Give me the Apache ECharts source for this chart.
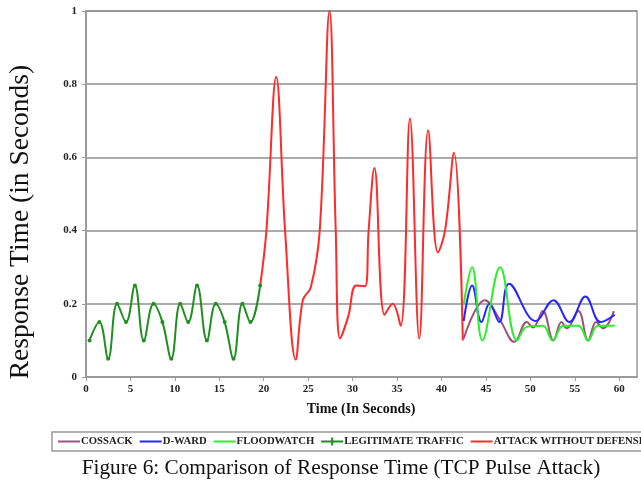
<!DOCTYPE html>
<html><head><meta charset="utf-8">
<script src="https://cdn.jsdelivr.net/npm/echarts@6/dist/echarts.min.js"></script>
<style>html,body{margin:0;padding:0;background:#fff}#c{width:641px;height:483px}</style>
</head><body><div id="c"></div>
<script>
const xTicks = [0,5,10,15,20,25,30,35,40,45,50,55,60];
const legitX = [0.4,1.5,2.5,3.5,4.5,5.5,6.5,7.6,8.6,9.6,10.6,11.5,12.5,13.6,14.6,15.6,16.6,17.6,18.5,19.6];
const legitY = [0.10,0.15,0.05,0.20,0.15,0.25,0.10,0.20,0.15,0.05,0.20,0.15,0.25,0.10,0.20,0.15,0.05,0.20,0.15,0.25];
const attackX = [19.6,20.3,21.4,22.4,23.6,24.4,25.3,26.3,27.4,28.1,28.6,29.5,30.4,31.4,31.8,32.45,33.6,34.5,35.4,36.45,37.5,38.5,39.6,40.4,41.4,42.4];
const attackY = [0.25,0.40,0.82,0.40,0.048,0.21,0.245,0.40,1.0,0.40,0.105,0.165,0.25,0.248,0.40,0.571,0.17,0.20,0.14,0.706,0.105,0.674,0.34,0.40,0.613,0.10];
const cossackX = [42.5,44.9,46.6,48.2,49.6,50.3,51.4,52.6,53.5,54.1,55.4,56.5,57.4,58.2,59.4];
const cossackY = [0.105,0.21,0.155,0.096,0.15,0.135,0.18,0.10,0.15,0.133,0.18,0.10,0.15,0.133,0.18];
const dwardX = [42.5,43.45,44.5,45.4,46.5,47.6,50.6,52.6,54.4,56.2,57.9,59.5];
const dwardY = [0.153,0.25,0.15,0.20,0.15,0.255,0.153,0.21,0.15,0.22,0.15,0.17];
const floodX = [42.5,43.45,44.6,46.6,48.5,49.6,51.4,52.5,53.7,55.4,56.5,57.6,59.5];
const floodY = [0.20,0.30,0.10,0.30,0.10,0.137,0.14,0.10,0.14,0.14,0.10,0.14,0.14];
const names = ['COSSACK','D-WARD','FLOODWATCH','LEGITIMATE TRAFFIC','ATTACK WITHOUT DEFENSE'];
const captionText = 'Figure 6: Comparison of Response Time (TCP Pulse Attack)';
const yTitle = 'Response Time (in Seconds)';
const xTitle = 'Time (In Seconds)';

const pairs = (xs, ys) => xs.map((x, i) => [x, ys[i]]);
const serif = '"Liberation Serif","DejaVu Serif",serif';
const lineIcon = 'path://M0,3.5h22v2h-22z';
const crossIcon = 'path://M0,3.5h10v-3h2v3h10v2h-10v3h-2v-3h-10z';

const chart = echarts.init(document.getElementById('c'));
chart.setOption({
  animation: false,
  backgroundColor: '#fff',
  grid: { left: 86, right: 4, top: 11, bottom: 106, show: true, borderColor: '#9a9a9a', borderWidth: 1.5 },
  xAxis: {
    type: 'value', min: 0, max: 62, interval: 5,
    axisLine: { show: true, lineStyle: { color: '#9a9a9a', width: 2 } },
    axisTick: { show: true, length: 4, customValues: xTicks, lineStyle: { color: '#9a9a9a' } },
    axisLabel: { customValues: xTicks, margin: 7, color: '#222', fontFamily: serif, fontWeight: 'bold', fontSize: 11 },
    splitLine: { show: false }
  },
  yAxis: {
    type: 'value', min: 0, max: 1, interval: 0.2,
    axisLine: { show: true, lineStyle: { color: '#9a9a9a', width: 2 } },
    axisTick: { show: true, length: 4, lineStyle: { color: '#9a9a9a' } },
    axisLabel: { margin: 9, color: '#222', fontFamily: serif, fontWeight: 'bold', fontSize: 11 },
    splitLine: { show: true, lineStyle: { color: '#8f8f8f', width: 1.5 } }
  },
  legend: {
    left: 52, top: 432, width: 900, padding: [4, 6, 4, 6],
    borderColor: '#999', borderWidth: 1.5, itemGap: 7, itemWidth: 22, itemHeight: 9,
    textStyle: { fontFamily: serif, fontWeight: 'bold', fontSize: 10.7, color: '#222', padding: [0, 0, 0, -4] },
    data: [
      { name: names[0], icon: lineIcon },
      { name: names[1], icon: lineIcon },
      { name: names[2], icon: lineIcon },
      { name: names[3], icon: crossIcon },
      { name: names[4], icon: lineIcon }
    ]
  },
  graphic: [
    { type: 'text', x: 21, y: 222, rotation: Math.PI / 2,
      style: { text: yTitle, font: '27.5px ' + serif, fill: '#111', textAlign: 'center', textVerticalAlign: 'middle' } },
    { type: 'text', x: 361, y: 409,
      style: { text: xTitle, font: 'bold 14px ' + serif, fill: '#111', textAlign: 'center', textVerticalAlign: 'middle' } },
    { type: 'text', x: 341, y: 468,
      style: { text: captionText, font: '21.3px ' + serif, fill: '#111', textAlign: 'center', textVerticalAlign: 'middle' } }
  ],
  series: [
    { name: names[4], type: 'line', smooth: 0.4, symbol: 'none', data: pairs(attackX, attackY),
      lineStyle: { color: '#ff2a2a', width: 2 }, itemStyle: { color: '#ff2a2a' } },
    { name: names[3], type: 'line', smooth: 0.4, symbol: 'circle', symbolSize: 4, data: pairs(legitX, legitY),
      lineStyle: { color: '#1f8f1f', width: 2 }, itemStyle: { color: '#1f8f1f' } },
    { name: names[0], type: 'line', smooth: 0.4, symbol: 'none', data: pairs(cossackX, cossackY),
      lineStyle: { color: '#a0507e', width: 2 }, itemStyle: { color: '#a0507e' } },
    { name: names[1], type: 'line', smooth: 0.4, symbol: 'none', data: pairs(dwardX, dwardY),
      lineStyle: { color: '#2626ff', width: 2 }, itemStyle: { color: '#2626ff' } },
    { name: names[2], type: 'line', smooth: 0.4, symbol: 'none', data: pairs(floodX, floodY),
      lineStyle: { color: '#2bef2b', width: 2 }, itemStyle: { color: '#2bef2b' } }
  ]
});
</script></body></html>
